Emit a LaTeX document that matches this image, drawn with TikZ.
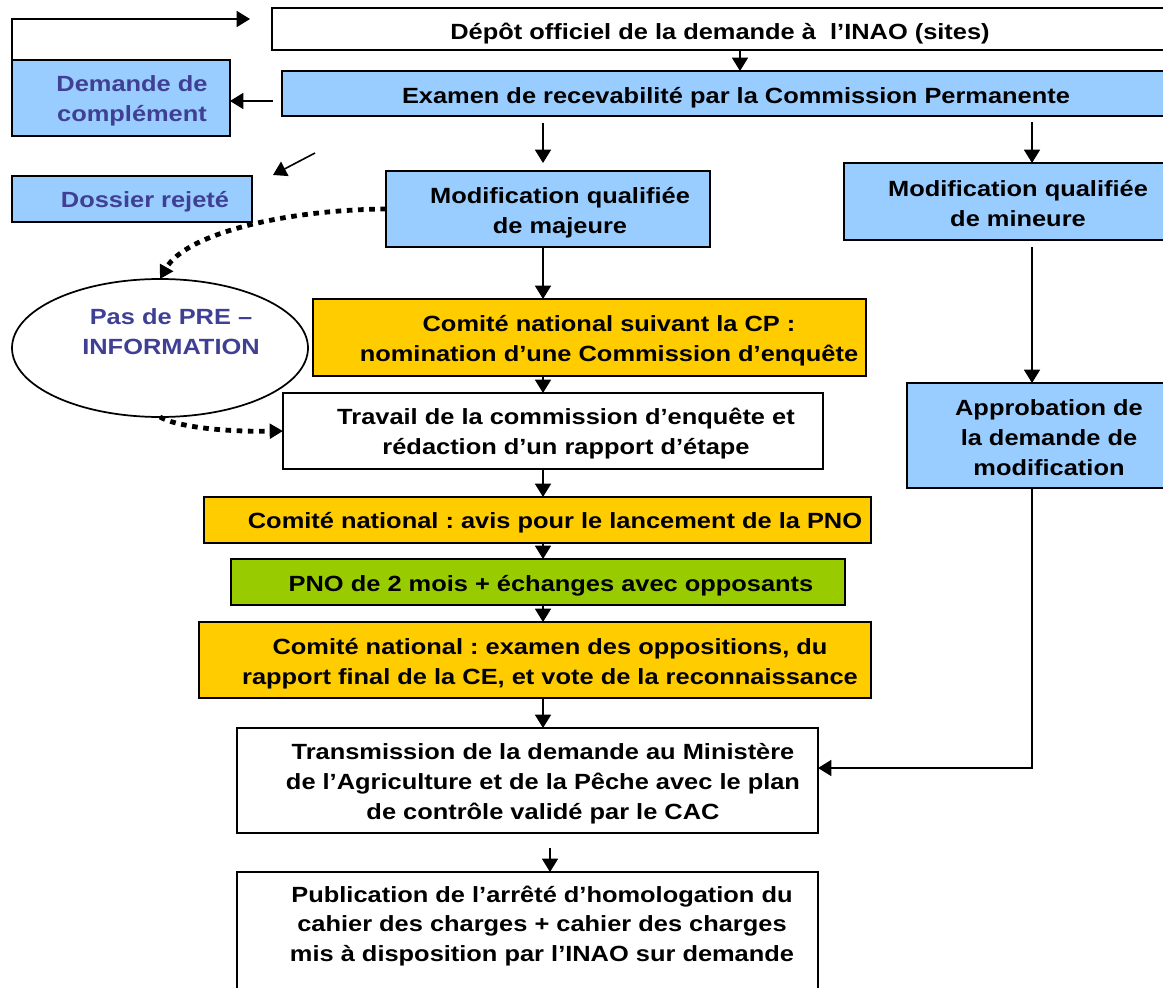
\documentclass[tikz,border=0pt]{standalone}
\usepackage{fontspec}
\setmainfont{Liberation Sans}[FakeStretch=1.155]
\usetikzlibrary{arrows.meta,shapes.geometric}
\definecolor{lblue}{HTML}{99CCFF}
\definecolor{orng}{HTML}{FFCC00}
\definecolor{grn}{HTML}{99CC00}
\definecolor{txtblue}{HTML}{3F3F94}
\frenchspacing
\begin{document}
\begin{tikzpicture}[x=0.75pt,y=-0.75pt,
 box/.style={draw, line width=1.3pt, inner sep=0pt, outer sep=0pt},
 lbl/.style={font=\fontsize{16.5}{22.2}\selectfont\bfseries, align=center, inner sep=0pt, yshift=-2pt},
 bl/.style={lbl, text=txtblue},
 arr/.style={line width=1.2pt, -{Triangle[length=10pt,width=12pt]}},
 dotarr/.style={line width=3.6pt, dash pattern=on 4.2pt off 4.2pt, -{Triangle[length=10pt,width=11pt]}}]
\useasboundingbox (0,0) rectangle (1163,988);
% boxes
\node[box, minimum width=908*0.75pt, minimum height=42*0.75pt] (depot) at (726,29) {};
\node[box, fill=lblue, minimum width=898*0.75pt, minimum height=45*0.75pt] (examen) at (731,93.5) {};
\node[box, fill=lblue, minimum width=218*0.75pt, minimum height=76*0.75pt] (demande) at (121,98) {};
\node[box, fill=lblue, minimum width=240*0.75pt, minimum height=46*0.75pt] (rejete) at (132,199) {};
\node[box, fill=lblue, minimum width=324*0.75pt, minimum height=76*0.75pt] (majeure) at (548,209) {};
\node[box, fill=lblue, minimum width=336*0.75pt, minimum height=77*0.75pt] (mineure) at (1012,201.5) {};
\node[box, fill=orng, minimum width=553*0.75pt, minimum height=77*0.75pt] (nomination) at (589.5,337.5) {};
\node[box, ellipse, minimum width=296*0.75pt, minimum height=138*0.75pt] (pas) at (160,348) {};
\node[box, minimum width=540*0.75pt, minimum height=76*0.75pt] (travail) at (553,431) {};
\node[box, fill=orng, minimum width=667*0.75pt, minimum height=46*0.75pt] (avis) at (537.5,520) {};
\node[box, fill=grn, minimum width=614*0.75pt, minimum height=46*0.75pt] (pno) at (538,582) {};
\node[box, fill=orng, minimum width=672*0.75pt, minimum height=76*0.75pt] (exam) at (535,660) {};
\node[box, minimum width=581*0.75pt, minimum height=105*0.75pt] (transmission) at (527.5,780.5) {};
\node[box, minimum width=581*0.75pt, minimum height=138*0.75pt] (publication) at (527.5,941) {};
\node[box, fill=lblue, minimum width=273*0.75pt, minimum height=105*0.75pt] (approbation) at (1043.5,435.5) {};
% texts
\node[lbl] (t1) at (720,31) {Dépôt officiel de la demande à\ \ l’INAO (sites)};
\node[lbl] (t2) at (736,95) {Examen de recevabilité par la Commission Permanente};
\node[bl] (t3) at (132,98) {Demande de\\complément};
\node[bl] (t4) at (145,199) {Dossier rejeté};
\node[lbl] (t5) at (560,210) {Modification qualifiée\\de majeure};
\node[lbl] (t6) at (1018,201) {Modification qualifiée\\de mineure};
\node[bl] (t7) at (171,329) {Pas de PRE –\\INFORMATION};
\node[lbl] (t8) at (609,338) {Comité national suivant la CP :\\nomination d’une Commission d’enquête};
\node[lbl] (t9) at (566,431) {Travail de la commission d’enquête et\\rédaction d’un rapport d’étape};
\node[lbl] (t10) at (555,520) {Comité national : avis pour le lancement de la PNO};
\node[lbl] (t11) at (551,583) {PNO de 2 mois + échanges avec opposants};
\node[lbl] (t12) at (550,661) {Comité national : examen des oppositions, du\\rapport final de la CE, et vote de la reconnaissance};
\node[lbl] (t13) at (543,781) {Transmission de la demande au Ministère\\de l’Agriculture et de la Pêche avec le plan\\de contrôle validé par le CAC};
\node[lbl] (t14) at (542,923) {Publication de l’arrêté d’homologation du\\cahier des charges + cahier des charges\\mis à disposition par l’INAO sur demande};
\node[lbl] (t15) at (1049,435) {Approbation de\\la demande de\\modification};
% helper coordinates
\coordinate (colx) at (543,0);
\coordinate (c740) at (740,0);
\coordinate (c1032) at (1032,0);
\coordinate (c550) at (550,0);
\coordinate (r101) at (0,101);
\coordinate (r209) at (0,209);
\coordinate (r768) at (0,768);
\coordinate (fb1) at (12,19);
\coordinate (fb2) at (250,19);
\coordinate (dg1) at (315,153);
\coordinate (dg2) at (273,175);
% connectors
\draw[arr] (depot.south -| c740) -- (examen.north -| c740);
\draw[arr, shorten <=6.75pt] (examen.west |- r101) -- (demande.east |- r101);
\draw[arr] (demande.north west) -- (fb1) -- (fb2);
\draw[arr] (dg1) -- (dg2);
\draw[arr, shorten <=5.25pt, shorten >=6pt] (examen.south -| colx) -- (majeure.north -| colx);
\draw[arr, shorten <=4.5pt] (examen.south -| c1032) -- (mineure.north -| c1032);
\draw[arr] (majeure.south -| colx) -- (nomination.north -| colx);
\draw[arr] (nomination.south -| colx) -- (travail.north -| colx);
\draw[arr] (travail.south -| colx) -- (avis.north -| colx);
\draw[arr] (avis.south -| colx) -- (pno.north -| colx);
\draw[arr] (pno.south -| colx) -- (exam.north -| colx);
\draw[arr] (exam.south -| colx) -- (transmission.north -| colx);
\draw[arr, shorten <=11.25pt] (transmission.south -| c550) -- (publication.north -| c550);
\draw[arr, shorten <=5.25pt] (mineure.south -| c1032) -- (approbation.north -| c1032);
\draw[arr] (approbation.south -| c1032) -- (c1032 |- r768) -- (transmission.east |- r768);
\draw[dotarr] (majeure.west |- r209) .. controls (280,210) and (185,235) .. (pas.north);
\draw[dotarr] (pas.south) .. controls (175,426) and (220,432) .. (travail.west);
\end{tikzpicture}
\end{document}
